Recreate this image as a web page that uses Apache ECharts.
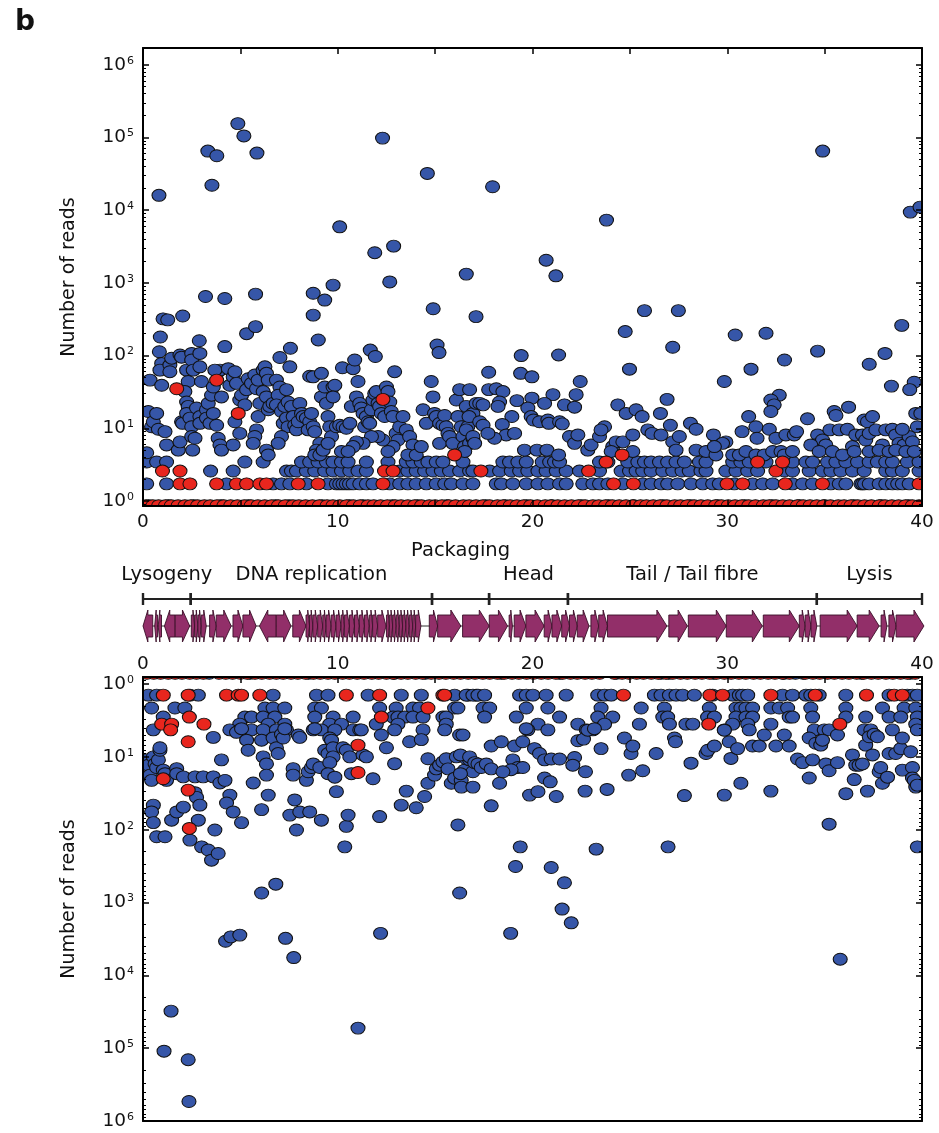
<!DOCTYPE html>
<html><head><meta charset="utf-8">
<script src="https://cdn.jsdelivr.net/npm/echarts@6.0.0/dist/echarts.min.js"></script>
<style>html,body{margin:0;padding:0;background:#fff}#c{width:939px;height:1133px}</style>
</head><body><div id="c"></div>
<script>
// ---------------- DATA ----------------
const xTicks = [0, 10, 20, 30, 40];
const topLevels = [0.86, 1.72, 2.58, 3.44];
const botLevels = [0.71, 1.42, 2.13, 2.84, 3.55, 4.26];

const topRedL1 = [0.15,0.5,0.8,1.15,1.45,1.8,2.15,2.45,2.8,3.15,3.45,3.8,4.15,4.5,4.85,5.2,5.55,5.9,6.25,6.6,6.95,7.3,7.7,8.0,8.35,8.7,9.05,9.45,9.75,10.1,10.45,10.8,11.15,11.55,11.85,12.2,12.55,12.95,13.25,13.6,13.95,14.3,14.7,15.0,15.35,15.7,16.05,16.45,16.75,17.1,17.45,17.8,18.2,18.5,18.85,19.2,19.55,19.9,20.25,20.65,20.95,21.3,21.65,22.0,22.35,22.7,23.1,23.4,23.75,24.1,24.45,24.8,25.15,25.55,25.85,26.2,26.55,26.9,27.3,27.6,27.95,28.3,28.65,29.0,29.4,29.7,30.05,30.4,30.75,31.1,31.45,31.85,32.15,32.5,32.85,33.2,33.6,33.9,34.25,34.6,34.95,35.3,35.7,36.0,36.35,36.7,37.05,37.4,37.8,38.1,38.45,38.8,39.15,39.5,39.85];
const topBlueL1 = [0.3,1.3,2.6,4.0,5.4,6.8,7.5,9.2,10.6,11.3,12.8,14.1,15.6,17.6,18.6,19.7,21.0,22.5,23.9,25.2,26.7,28.1,29.5,30.9,32.3,33.7,35.0,36.5,37.9,39.3];
const topBlueL2 = [0.19,1.21,4.29,6.68,7.11,7.54,8.39,9.5,9.93,10.1,10.27,10.44,10.6,10.79,11.13,11.47,11.81,12.67,13.18,13.6,14.03,14.55,15.06,15.49,15.83,16.43,16.94,18.14,18.4,18.99,19.68,20.28,20.79,21.39,21.73,22.58,23.1,23.44,23.87,24.64,25.66,26.09,26.6,26.94,27.46,28.14,28.74,29.25,29.59,30.36,31.3,31.82,32.33,33.35,33.87,34.38,35.32,35.75,36.09,36.86,36.95,37.05,37.29,37.8,38.14,38.48,38.75,38.99,39.34];
const topRedL2 = [1.9,2.41,3.78,4.8,5.32,6.0,6.34,7.97,8.99,12.32,24.16,25.18,29.99,30.79,32.98,34.89,39.85];
const topBlueL3 = [3.47,4.63,7.37,7.62,7.88,8.39,8.82,9.33,9.76,10.19,10.62,11.04,11.47,13.18,13.6,14.03,14.46,14.89,15.32,15.74,16.26,16.77,16.94,17.8,18.31,18.91,19.34,19.76,20.28,20.7,21.22,21.73,22.41,23.44,24.55,24.98,25.32,25.66,26.09,26.69,27.2,27.68,28.05,28.65,28.91,29.93,30.45,31.05,31.56,32.93,33.35,34.21,34.89,35.32,35.83,36.43,37.03,38.14,38.48,38.99,39.85];
const topRedL3 = [1.0,1.9,12.4,12.84,17.35,22.88,32.5];
const topBlueL4 = [0.19,0.7,1.21,5.23,6.17,8.14,8.56,8.99,9.42,9.76,10.19,10.53,11.47,12.58,13.52,13.86,14.29,14.63,15.06,15.4,16.43,18.48,18.82,19.25,19.68,20.5,20.88,21.13,21.39,23.44,23.87,24.89,25.41,25.75,26.09,26.52,26.94,27.37,27.8,28.57,28.91,30.28,30.7,31.13,31.99,33.35,34.04,34.38,35.15,35.58,36.09,36.69,37.29,37.71,38.14,38.48,39.25,39.85];
const topRedL4 = [23.78,31.56,32.84];

const topBlueCloud = [
[0.82,16000],[3.33,65000],[3.79,56000],[3.54,22000],[4.87,155000],[5.18,105000],[5.85,61000],[12.3,98000],[14.6,32000],[10.1,5900],[11.9,2600],[12.87,3200],[34.9,65000],[17.95,21000],[23.8,7300],[39.4,9400],[39.9,11000],[20.7,2050],[21.2,1250],[16.6,1320],
[12.67,1030],[9.76,930],[8.74,720],[9.33,580],[8.74,360],[9.0,164],[3.21,650],[4.2,610],[5.78,700],[5.32,200],[5.78,250],[2.04,350],[1.03,320],[1.27,310],[0.89,180],[2.89,160],[4.2,133],[14.9,440],[15.1,140],[15.2,110],[17.1,343],[11.67,119],[11.93,97],[10.24,68],
[25.75,415],[27.49,415],[24.76,214],[30.41,192],[31.99,203],[38.96,260],[19.42,100],[21.34,102],[27.2,130],[32.94,87],[34.64,115],[38.1,107],[37.29,76],[24.98,65],[31.22,65],[17.75,59],[19.39,57],[19.97,51],[22.45,44],[29.85,44],[39.6,43],[38.43,38],[39.37,34],
[0.19,4.6],[0.27,17],[0.36,46],[0.44,10.5],[0.53,12.3],[0.70,16],[0.79,9.7],[0.84,113],[0.96,78],[0.87,63],[0.96,39],[1.38,74],[1.47,92],[1.38,60],[1.13,9],[1.21,5.9],[1.90,102],[1.98,95],[1.81,5.0],[1.90,6.5],[1.98,12.3],[2.03,11.7],[2.24,63],[2.32,44],[2.15,32],[2.24,23],[2.32,20],[2.24,16],[2.50,107],[2.50,87],[2.58,63],[2.41,13.8],[2.50,10.5],[2.50,7.7],[2.55,5.0],[2.92,107],[2.92,70],[3.0,44],[2.75,19],[2.92,14.5],[2.67,7.3],[2.92,11.7],[3.26,18],[3.26,13.8],[3.44,11.7],[3.35,22],[3.52,28.5],[3.61,37],[3.86,60],[3.95,63],[3.69,63],[4.03,27],[3.61,16],[3.78,11],[3.86,7.3],[3.95,5.9],[4.03,5.0],[4.38,66],[4.46,39],[4.63,51],[4.72,60],[4.80,41.5],[4.72,12.3],[4.97,8.5],[4.63,5.9],[4.97,24.5],[5.06,28.5],[5.23,21],[5.32,34],[5.40,48],[5.57,41.5],[5.74,54],[5.83,35],[5.91,46],[6.0,22],[5.91,14.5],[5.83,9.5],[5.74,7.7],[5.66,6.2],[6.17,63],[6.26,70],[6.34,57],[6.43,46],[6.17,32],[6.34,27],[6.43,18],[6.51,20],[6.68,22],[6.85,46],[7.03,37],[6.94,28.5],[6.85,21],[7.11,17],[7.2,11.7],[7.28,20],[7.37,13.8],[7.45,10.5],[7.11,7.7],[6.94,6.2],[6.34,5.0],[6.43,4.3],[7.57,126],[7.54,70],[7.03,94],[7.37,34],[7.45,23],[7.62,20],[7.71,14.5],[7.79,11],[7.88,9.5],[7.97,12.3],[8.05,22],[8.14,16],[8.22,14.5],[8.39,13.8],[8.56,12.3],[8.48,9.5],[8.65,16],[8.74,10.5],[8.82,9],[8.56,52],[8.74,51],[9.16,57],[9.16,27],[9.33,37],[9.42,22],[9.50,14.5],[9.59,10.5],[9.68,7.7],[9.08,6.2],[8.91,5.0],[8.82,4.3],[9.08,4.3],[9.25,5.0],[9.50,6.2],[9.76,37],[9.85,39],[9.76,27],[9.93,10.5],[10.1,11],[10.19,4.8],[10.27,10.5],[10.44,10],[10.62,11.7],[10.7,20],[10.79,66],[10.87,87],[10.96,27],[11.04,44],[11.13,22],[11.21,19],[11.3,16],[11.38,10.5],[11.47,14.5],[11.56,12.3],[11.64,11.7],[11.73,18],[11.81,24.5],[11.9,30],[11.98,32],[12.07,22],[12.15,20],[12.24,16],[12.41,14.5],[12.5,37],[12.58,32],[12.67,23],[12.75,17],[12.92,60],[12.84,14.5],[13.0,8.5],[13.18,10.5],[13.09,6.9],[12.84,5.6],[12.58,4.8],[12.32,6.9],[12.07,7.7],[11.73,7.7],[11.3,6.2],[10.96,6.5],[10.79,5.6],[10.53,4.8],[13.35,14.5],[13.52,9.5],[13.69,7.7],[13.86,5.9],[13.6,4.3],[14.03,4.3],[14.29,5.6],[14.38,18],[14.55,11.7],[14.8,44],[14.89,27],[14.97,16],[15.06,14.5],[15.23,11.7],[15.23,6.2],[15.4,11],[15.49,15],[15.57,10.5],[15.66,8.5],[15.74,7.7],[15.91,6.2],[16.09,24.5],[16.17,14.5],[16.26,34],[16.34,10.5],[16.43,7.7],[16.51,5.6],[16.6,20],[16.68,10.5],[16.77,6.2],[16.94,16],[17.11,22],[16.94,7.3],
[16.77,34],[17.75,34],[18.14,35],[18.48,32],[21.05,29],[22.24,29],[32.67,28.5],[32.24,24.5],[32.41,21],[32.24,17],[26.91,25],[19.97,26],[19.2,24],[18.31,23],[18.23,20],[17.29,22],[17.46,21],[20.62,22],[19.76,19],[21.64,21],[22.16,19.5],[24.38,21],[24.81,16],[25.32,18],[25.63,14.5],[26.57,16],[34.12,13.5],[35.49,17],[35.58,15],[36.23,19.5],[37.03,13],[37.2,12.3],[37.46,14.5],[31.1,14.5],[16.74,14.5],[18.94,14.5],[19.93,14.5],[20.05,13],[20.36,12.3],[20.79,13],[20.84,11.7],[21.39,12.3],[21.53,11.5],[18.45,11.3],[17.29,12.3],[17.46,11],[23.7,10.5],[25.92,9.5],[26.14,8.5],[27.08,11],[26.6,8.1],[28.11,11.7],[28.4,9.7],[29.29,8.1],[29.93,6.5],[29.76,6.2],[30.76,9],[31.47,10.5],[31.53,7.3],[32.16,9.7],[32.5,7.3],[33.01,8.1],[33.44,8.1],[33.56,9],[34.64,8.1],[34.47,5.9],[34.89,6.9],[35.06,5.9],[35.27,9.5],[35.75,9.5],[36.17,9.7],[36.43,5.6],[36.6,8.1],[36.94,8.1],[37.11,6.9],[37.29,8.5],[37.63,9.5],[37.97,5.9],[38.14,9.5],[38.48,9.7],[38.65,8.1],[38.82,6.2],[39.08,5.9],[39.34,7.7],[39.51,6.5],[39.76,10.5],[39.68,16],[39.94,16],[38.99,9.7],[18.65,8.1],[19.08,8.5],[18.05,7.3],[17.71,8.5],[16.6,9.5],[16.94,7.7],[17.03,6.2],[16.52,4.8],[19.59,5.0],[20.23,5.0],[20.74,5.0],[21.34,4.3],[21.9,7.7],[22.16,6.2],[22.33,8.1],[22.84,5.0],[23.01,5.9],[23.44,7.7],[23.52,9.5],[24.12,5.6],[24.29,6.5],[24.64,6.5],[24.04,4.8],[25.15,4.8],[25.15,8.1],[27.2,6.5],[27.54,7.7],[27.37,5.0],[28.4,5.0],[28.91,4.8],[29.42,4.3],[29.34,5.6],[30.28,4.3],[30.62,4.3],[30.96,4.8],[31.47,4.3],[31.9,4.3],[32.33,4.8],[32.76,4.8],[32.93,4.3],[33.35,4.8],[34.29,5.9],[34.72,4.8],[35.4,4.8],[35.92,4.3],[36.52,4.8],[37.29,4.8],[37.8,5.0],[38.31,4.8],[38.65,5.0],[39.17,4.8],[39.6,4.8]
];
const topRedCloud = [[1.73,35],[3.78,46],[4.89,16],[12.32,25],[16.0,4.3],[24.6,4.3]];

const botRedL1 = [0.2,0.55,0.9,1.3,1.65,2.0,2.4,2.75,3.1,3.9,4.25,4.6,5.0,5.35,5.75,6.1,6.5,6.85,7.2,7.6,7.95,8.35,8.75,9.1,9.5,9.85,10.25,10.6,11.0,11.35,11.75,12.1,12.5,12.85,13.25,13.6,14.0,14.35,14.8,15.2,15.55,15.95,16.3,16.7,17.05,17.45,17.8,18.2,18.55,18.95,19.3,19.7,20.05,20.45,20.8,21.2,21.55,21.95,22.3,22.7,23.05,23.45,24.2,24.6,24.95,25.35,25.7,26.1,26.45,26.85,27.2,27.6,27.95,28.35,28.7,29.1,29.45,29.85,30.2,30.6,30.95,31.35,31.7,32.1,32.45,32.85,33.2,34.0,34.4,34.75,35.15,35.5,35.9,36.25,36.65,37.0,37.4,37.75,38.15,38.5,38.9,39.25,39.65];
const botBlueL1 = [3.4,5.5,8.5,12.9,14.5,18.4,21.4,24.3,26.6,27.0,29.3,32.9,33.5,33.9,36.9,39.4];
const botBlueL2 = [0.27,0.7,2.41,2.84,6.68,8.91,9.5,11.56,13.26,14.29,16.0,16.68,17.11,16.6,16.94,17.2,17.54,19.34,19.68,20.02,20.7,21.73,23.35,23.7,24.04,26.26,26.6,27.03,27.37,27.71,28.31,29.25,30.28,30.62,30.79,31.05,32.84,33.35,34.04,34.29,34.72,36.09,38.31,39.25,39.51,39.76];
const botRedL2 = [1.04,2.32,4.29,4.89,5.06,6.0,10.44,12.15,15.4,15.49,24.67,29.11,29.76,32.24,34.52,37.15,38.57,38.99];
const botBlueL3 = [0.44,1.64,2.15,6.26,6.68,7.28,8.82,9.16,12.15,13.0,13.86,14.2,16.0,16.17,17.46,17.8,19.68,20.79,23.52,25.58,26.77,29.08,30.45,30.7,30.96,31.3,32.24,32.67,33.1,34.29,36.09,37.97,39.08,39.68];
const botRedL3 = [14.63];
const botBlueL4 = [1.04,5.23,5.57,6.17,6.77,8.82,9.76,10.79,12.84,13.09,13.44,13.86,14.38,15.4,15.57,17.54,19.17,21.39,23.35,24.12,26.69,26.94,28.99,29.34,30.45,30.96,31.3,33.18,33.35,34.38,36.09,37.11,38.31,38.91,39.76];
const botRedL4 = [2.38,12.24];
const botBlueL5 = [4.97,6.43,7.28,9.59,10.19,11.98,13.09,15.57,20.28,22.33,23.7,25.49,27.03,27.88,28.23,30.28,31.05,32.24,39.68];
const botRedL5 = [0.96,1.47,3.13,29.05,35.78];
const botBlueL6 = [0.53,4.46,4.97,5.57,6.17,6.85,7.37,8.74,9.16,9.85,10.79,11.13,11.21,12.92,14.38,15.49,19.76,20.79,22.76,23.1,29.85,31.13,34.47,34.98,35.23,37.03,37.37,38.48,39.76];
const botRedL6 = [1.42];

const botBlueCloud = [
[0.19,11],[0.27,13],[0.36,17.8],[0.44,21],[0.53,10],[0.62,12.5],[0.7,14],[0.79,11],[0.87,8.1],[0.87,7.5],[1.04,15.2],[1.13,17],[1.21,21],[0.53,46],[0.44,57],[0.53,80],[0.7,125],[1.13,125],[1.47,74],[1.73,57],[2.07,49],[1.73,14.5],[1.73,17],[2.07,18.8],[2.67,18.8],[3.09,18.8],[3.61,18.8],[3.95,22.8],[4.21,21],[2.67,31],[2.75,36],[2.92,46],[2.84,74],[2.41,139],[3.01,172],[3.35,190],[3.52,262],[3.86,212],[3.69,101],[4.03,11],[3.61,5.4],[4.46,33.5],[4.29,43],[4.63,57],[5.06,80],[4.8,4.6],[5.06,4.1],[5.32,5.9],[5.4,8.1],[5.66,22.8],[6.09,5.9],[6.17,10],[6.34,12.5],[6.34,17.8],[6.43,33.5],[6.09,53],[6.68,5.5],[6.85,7.5],[6.94,9],[7.11,4.9],[7.2,5.5],[7.28,4.1],[7.71,14.5],[7.71,17.8],[7.79,39],[7.54,63],[7.88,101],[8.05,57],[7.97,5.0],[8.05,5.4],[8.56,57],[8.39,21],[8.48,16],[8.65,14],[8.74,12.5],[8.82,4.1],[9.08,14],[9.16,74],[9.33,8.1],[9.5,9],[9.59,5.5],[9.68,5.9],[9.76,7.5],[9.76,10],[9.59,12],[9.5,17],[9.85,19],[9.93,30],[10.27,7.5],[10.44,8.1],[10.62,10],[10.7,17],[10.44,90],[10.36,172],[10.53,63],[11.3,9.4],[11.47,10],[11.81,20],[12.15,66],[12.24,5.0],[12.5,7.5],[12.92,12.4],[13.26,46],[13.52,29.5],[13.69,6.2],[14.03,50],[14.29,5.8],[14.46,35],[14.63,23],[14.63,10.6],[14.97,17.8],[15.06,14.6],[15.23,13],[15.4,11.7],[15.57,10.6],[15.66,14.6],[15.83,23],[16.0,19.6],[16.09,10],[16.26,5.0],[16.34,21],[16.51,15.2],[16.6,10.6],[16.77,11],[16.94,16],[16.17,86],
[1.08,110000],[1.44,31000],[2.32,144000],[2.36,540000],[4.24,3400],[4.51,2960],[4.97,2800],[6.09,740],[6.82,560],[7.32,3100],[7.74,5700],[11.04,53000],[12.2,2650],[16.26,740],[18.88,2650],[21.52,1230],[21.99,1900],[21.64,535],[35.8,6000],
[35.23,84],[39.76,172],[19.37,172],[23.27,185],[26.96,172],[19.13,320],[20.96,330],[17.88,47],
[16.3,9.4],[16.3,17],[16.35,26],[16.77,10],[17.03,12],[17.2,12.5],[17.37,14],[17.63,12.5],[17.88,14.6],
[16.43,5.0],[17.88,7.1],[18.4,6.2],[19.08,7.1],[19.5,6.2],[20.1,7.7],[20.36,9],[20.62,11],[20.96,10.7],[21.39,10.7],[22.16,10.2],[22.07,13],[22.33,6],[22.62,5.7],[22.72,16],[22.84,4.3],[23.18,4.1],[23.52,7.7],[22.7,29.5],[23.83,28],[19.85,33.5],[20.28,30],[20.62,19.5],[20.91,22],[21.22,35],[19.68,4.1],[18.99,11],[19.25,14],[19.5,14],[18.9,15],[18.48,16],[18.31,23],[16.94,26],[24.72,5.5],[25.06,9],[25.15,7.1],[24.94,17.8],[25.66,15.5],[26.35,9],[27.29,5.5],[27.34,6.2],[28.14,12.2],[28.91,9],[29.0,8.1],[29.34,7.1],[29.85,4.3],[30.1,6.2],[30.19,10.5],[30.53,7.7],[30.7,23],[29.85,33.5],[27.8,34],[31.3,7.1],[31.64,7.1],[31.9,5.0],[32.5,7.1],[32.93,5.0],[33.18,7.1],[32.24,29.5],[33.61,10.7],[33.87,12],[34.21,5.5],[34.21,19.5],[34.38,11],[34.55,6.5],[34.8,6.9],[34.89,5.9],[35.06,12.5],[35.23,15.5],[35.66,12],[35.66,5.0],[36.09,32],[36.52,20.5],[36.43,9.4],[36.6,13],[36.77,13],[36.94,12.5],[37.11,6.9],[37.2,29.5],[37.29,5.3],[37.46,9.4],[37.54,4.9],[37.71,5.3],[37.8,16],[37.88,14],[37.97,23],[38.23,19],[38.31,9],[38.65,9],[38.91,7.7],[38.99,5.5],[38.99,15.2],[39.42,8.5],[39.51,14],[39.51,19.5],[39.68,26],[39.6,21],[39.76,24.4]
];
const botRedCloud = [[2.32,6.2],[2.32,28.6],[2.38,96],[1.04,20],[11.04,6.9],[11.04,16.4]];

// gene map (kb)
const geneStart = [0.0,0.6,0.78,1.1,1.65,2.48,2.65,2.82,2.99,3.42,3.76,4.62,5.13,5.98,6.84,7.69,8.37,8.55,8.72,8.97,9.23,9.40,9.66,9.91,10.17,10.34,10.6,10.86,11.11,11.37,11.62,11.79,12.05,12.5,12.65,12.82,13.0,13.16,13.33,13.5,13.67,13.85,14.0,14.7,15.13,16.41,17.78,18.8,19.06,19.66,20.6,21.0,21.5,21.9,22.3,23.0,23.4,23.85,27.0,28.0,29.95,31.85,33.7,34.0,34.3,34.77,36.67,37.9,38.3,38.67];
const geneEnd   = [0.5,0.75,0.95,1.65,2.4,2.65,2.82,2.99,3.25,3.76,4.53,5.13,5.81,6.84,7.6,8.37,8.55,8.72,8.97,9.23,9.40,9.66,9.91,10.17,10.34,10.6,10.86,11.11,11.37,11.62,11.79,12.05,12.48,12.65,12.82,13.0,13.16,13.33,13.5,13.67,13.85,14.0,14.27,15.13,16.32,17.78,18.72,18.97,19.66,20.6,21.0,21.5,21.9,22.3,22.9,23.4,23.85,26.9,27.95,29.95,31.8,33.7,34.0,34.3,34.6,36.67,37.8,38.2,38.67,40.1];
const geneDir   = [-1,-1,-1,-1,1,1,1,1,1,1,1,1,1,-1,1,1,1,1,1,1,1,1,1,1,1,1,1,1,1,1,1,1,1,1,1,1,1,1,1,1,1,1,1,1,1,1,1,1,1,1,1,1,1,1,1,1,1,1,1,1,1,1,1,1,1,1,1,1,1,1];
const regionNames = ['Lysogeny','DNA replication','Packaging','Head','Tail / Tail fibre','Lysis'];
const regionStart = [0, 2.45, 14.84, 17.77, 21.82, 34.6];
const regionEnd   = [2.45, 14.84, 17.77, 21.82, 34.6, 40];
const regionRaised = [0, 0, 1, 0, 0, 0];

// ---------------- CHART ----------------
const F = "'DejaVu Sans', 'Liberation Sans', sans-serif";
const BLUE = '#3656A8', RED = '#E8261E';
function rowPts(xs, v) { return xs.map(function (x) { return [x, v]; }); }
const topBlueData = [].concat(rowPts(topBlueL1, topLevels[0]), rowPts(topBlueL2, topLevels[1]), rowPts(topBlueL3, topLevels[2]), rowPts(topBlueL4, topLevels[3]), topBlueCloud);
const topRedData = [].concat(rowPts(topRedL1, topLevels[0]), rowPts(topRedL2, topLevels[1]), rowPts(topRedL3, topLevels[2]), rowPts(topRedL4, topLevels[3]), topRedCloud);
const botBlueData = [].concat(rowPts(botBlueL1, botLevels[0]), rowPts(botBlueL2, botLevels[1]), rowPts(botBlueL3, botLevels[2]), rowPts(botBlueL4, botLevels[3]), rowPts(botBlueL5, botLevels[4]), rowPts(botBlueL6, botLevels[5]), botBlueCloud);
const botRedData = [].concat(rowPts(botRedL1, botLevels[0]), rowPts(botRedL2, botLevels[1]), rowPts(botRedL3, botLevels[2]), rowPts(botRedL4, botLevels[3]), rowPts(botRedL5, botLevels[4]), rowPts(botRedL6, botLevels[5]), botRedCloud);
const geneData = geneStart.map(function (s, i) { return [s, geneEnd[i], geneDir[i]]; });
const regionData = regionStart.map(function (s, i) { return [s, regionEnd[i], i]; });

function logFmt(v) {
  const l = Math.log10(v), e = Math.round(l);
  if (Math.abs(l - e) > 1e-6) return '';
  return '{b|10}{s|' + e + '}';
}
const richLbl = {
  b: { fontSize: 18.5, fontFamily: F, color: '#111' },
  s: { fontSize: 11, fontFamily: F, color: '#111', verticalAlign: 'top', padding: [0, 0, 0, 1] }
};
const AL = { show: true, onZero: false, lineStyle: { color: '#000', width: 2 } };
function yLog(grid, pos, labels, inverse, min, max) {
  const a = {
    type: 'log', logBase: 10, gridIndex: grid, position: pos, min: min, max: max, inverse: inverse, zlevel: 1,
    axisLine: AL, splitLine: { show: false }, minorSplitLine: { show: false },
    axisTick: { show: true, inside: true, length: 6, lineStyle: { color: '#000', width: 1.5 } },
    minorTick: { show: true, splitNumber: 9, length: 3, lineStyle: { color: '#000', width: 1 } },
    axisLabel: { show: labels, formatter: logFmt, rich: richLbl, margin: 9 }
  };
  if (labels) {
    a.name = 'Number of reads'; a.nameLocation = 'middle'; a.nameRotate = 90; a.nameGap = 64;
    a.nameTextStyle = { fontSize: 19, fontFamily: F, color: '#111' };
  }
  return a;
}
function xVal(grid, pos, labels, ticks) {
  return {
    type: 'value', gridIndex: grid, position: pos, min: xTicks[0], max: xTicks[xTicks.length - 1], interval: 5, zlevel: 1,
    axisLine: AL, splitLine: { show: false },
    axisTick: { show: ticks, inside: true, length: 6, lineStyle: { color: '#000', width: 1.5 } },
    axisLabel: { show: labels, margin: pos === 'top' ? 3 : 7, fontSize: 18.5, fontFamily: F, color: '#111',
      formatter: function (v) { return xTicks.indexOf(v) >= 0 ? String(v) : ''; } }
  };
}
function scat(name, data, color, xi, yi) {
  return { type: 'scatter', name: name, data: data, xAxisIndex: xi, yAxisIndex: yi, symbol: 'circle', symbolSize: [14, 12],
    clip: false, silent: true, animation: false,
    itemStyle: { color: color, borderColor: '#111', borderWidth: 1, opacity: 1 } };
}
function renderGene(params, api) {
  const s = api.value(0), e = api.value(1), d = api.value(2);
  const cs = params.coordSys;
  const a = api.coord([s, 0])[0], b = api.coord([e, 0])[0];
  const mid = cs.y + 86, bh = 11, hh = 16;
  const w = b - a, h = Math.min(10, w * 0.5);
  let pts;
  if (d > 0) pts = [[a, mid - bh], [b - h, mid - bh], [b - h, mid - hh], [b, mid], [b - h, mid + hh], [b - h, mid + bh], [a, mid + bh]];
  else pts = [[b, mid - bh], [a + h, mid - bh], [a + h, mid - hh], [a, mid], [a + h, mid + hh], [a + h, mid + bh], [b, mid + bh]];
  return { type: 'polygon', shape: { points: pts }, style: { fill: '#922F69', stroke: '#3a1028', lineWidth: 0.9 } };
}
function renderRegion(params, api) {
  const s = api.value(0), e = api.value(1), idx = api.value(2);
  const cs = params.coordSys;
  const a = api.coord([s, 0])[0], b = api.coord([e, 0])[0];
  const by = cs.y + 59, gy = cs.y + 86, ly = regionRaised[idx] ? cs.y + 11 : cs.y + 35;
  return { type: 'group', children: [
    { type: 'line', shape: { x1: a, y1: gy, x2: b, y2: gy }, style: { stroke: '#333', lineWidth: 1 } },
    { type: 'line', shape: { x1: a, y1: by, x2: b, y2: by }, style: { stroke: '#222', lineWidth: 1.8 } },
    { type: 'line', shape: { x1: a, y1: by - 6, x2: a, y2: by + 6 }, style: { stroke: '#222', lineWidth: 2.4 } },
    { type: 'line', shape: { x1: b, y1: by - 6, x2: b, y2: by + 6 }, style: { stroke: '#222', lineWidth: 2.4 } },
    { type: 'text', style: { text: regionNames[idx], x: (a + b) / 2, y: ly, align: 'center', verticalAlign: 'middle', fontSize: 19.5, fontFamily: F, fill: '#111' } }
  ] };
}
const cover = { fill: '#fff' };
const option = {
  backgroundColor: '#fff',
  animation: false,
  title: { text: 'b', left: 10, top: 4, textStyle: { fontSize: 28, fontWeight: 'bold', fontFamily: F, color: '#111' } },
  grid: [
    { left: 143, right: 17, top: 48, height: 458, outerBoundsMode: 'none' },
    { left: 143, right: 17, top: 677, height: 444, outerBoundsMode: 'none' },
    { left: 143, right: 17, top: 540, height: 110, outerBoundsMode: 'none' }
  ],
  xAxis: [
    xVal(0, 'bottom', true, true),
    xVal(0, 'top', false, true),
    xVal(1, 'top', true, true),
    xVal(1, 'bottom', false, false),
    { type: 'value', gridIndex: 2, min: 0, max: 40, show: false }
  ],
  yAxis: [
    yLog(0, 'left', true, false, 0.853, 1.7e6),
    yLog(0, 'right', false, false, 0.853, 1.7e6),
    yLog(1, 'left', true, true, 0.8, 1e6),
    yLog(1, 'right', false, true, 0.8, 1e6),
    { type: 'value', gridIndex: 2, min: 0, max: 1, show: false }
  ],
  graphic: { elements: [
    { type: 'rect', z: 100, shape: { x: 120, y: 507, width: 819, height: 9 }, style: cover, silent: true },
    { type: 'rect', z: 100, shape: { x: 120, y: 655, width: 819, height: 21 }, style: cover, silent: true },
    { type: 'rect', z: 100, shape: { x: 923, y: 30, width: 16, height: 490 }, style: cover, silent: true },
    { type: 'rect', z: 100, shape: { x: 923, y: 655, width: 16, height: 478 }, style: cover, silent: true },
    { type: 'rect', z: 100, shape: { x: 120, y: 30, width: 22, height: 490 }, style: cover, silent: true },
    { type: 'rect', z: 100, shape: { x: 120, y: 655, width: 22, height: 478 }, style: cover, silent: true }
  ] },
  series: [
    scat('top blue', topBlueData, BLUE, 0, 0),
    scat('top red', topRedData, RED, 0, 0),
    scat('bottom blue', botBlueData, BLUE, 2, 2),
    scat('bottom red', botRedData, RED, 2, 2),
    { type: 'custom', name: 'regions', xAxisIndex: 4, yAxisIndex: 4, data: regionData, renderItem: renderRegion, silent: true, z: 1 },
    { type: 'custom', name: 'genes', xAxisIndex: 4, yAxisIndex: 4, data: geneData, renderItem: renderGene, silent: true, z: 2 }
  ]
};
const chart = echarts.init(document.getElementById('c'));
chart.setOption(option);
</script></body></html>
